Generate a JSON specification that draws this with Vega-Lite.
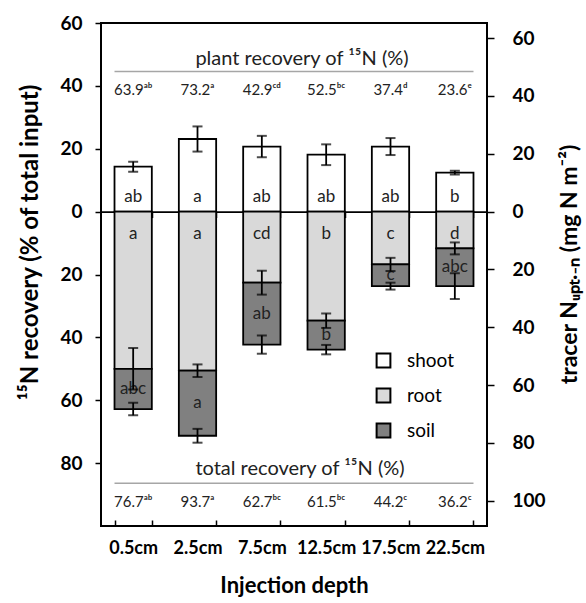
{
  "$schema": "https://vega.github.io/schema/vega-lite/v6.json",
  "width": 386,
  "height": 503,
  "autosize": "none",
  "padding": {"left": 101, "top": 23, "right": 99, "bottom": 77},
  "background": "white",
  "config": {
    "font": "Lato",
    "view": {"stroke": "black", "strokeWidth": 2},
    "axis": {"labelFont": "Lato", "titleFont": "Lato", "labelColor": "black", "titleColor": "black", "tickColor": "black", "domainColor": "black", "grid": false, "tickWidth": 1.5}
  },
  "datasets": {
    "parts": [
      {"depth": "0.5cm", "part": "shoot", "ord": 0, "value": 14.3, "err": 1.6, "letter": "ab"},
      {"depth": "0.5cm", "part": "root", "ord": 1, "value": -50.0, "err": 6.6, "letter": "a"},
      {"depth": "0.5cm", "part": "soil", "ord": 2, "value": -12.8, "err": 2.0, "letter": "abc"},
      {"depth": "2.5cm", "part": "shoot", "ord": 0, "value": 23.1, "err": 4.0, "letter": "a"},
      {"depth": "2.5cm", "part": "root", "ord": 1, "value": -50.6, "err": 2.0, "letter": "a"},
      {"depth": "2.5cm", "part": "soil", "ord": 2, "value": -20.7, "err": 2.2, "letter": "a"},
      {"depth": "7.5cm", "part": "shoot", "ord": 0, "value": 20.7, "err": 3.4, "letter": "ab"},
      {"depth": "7.5cm", "part": "root", "ord": 1, "value": -22.6, "err": 3.8, "letter": "cd"},
      {"depth": "7.5cm", "part": "soil", "ord": 2, "value": -19.7, "err": 2.9, "letter": "ab"},
      {"depth": "12.5cm", "part": "shoot", "ord": 0, "value": 18.1, "err": 3.3, "letter": "ab"},
      {"depth": "12.5cm", "part": "root", "ord": 1, "value": -34.7, "err": 2.3, "letter": "b"},
      {"depth": "12.5cm", "part": "soil", "ord": 2, "value": -9.2, "err": 1.5, "letter": "b"},
      {"depth": "17.5cm", "part": "shoot", "ord": 0, "value": 20.7, "err": 2.7, "letter": "ab"},
      {"depth": "17.5cm", "part": "root", "ord": 1, "value": -16.8, "err": 2.1, "letter": "c"},
      {"depth": "17.5cm", "part": "soil", "ord": 2, "value": -6.9, "err": 1.1, "letter": "c"},
      {"depth": "22.5cm", "part": "shoot", "ord": 0, "value": 12.4, "err": 0.6, "letter": "b"},
      {"depth": "22.5cm", "part": "root", "ord": 1, "value": -11.7, "err": 1.9, "letter": "d"},
      {"depth": "22.5cm", "part": "soil", "ord": 2, "value": -12.0, "err": 4.1, "letter": "abc"}
    ],
    "recov": [
      {"depth": "0.5cm", "plant": "63.9ᵃᵇ", "total": "76.7ᵃᵇ"},
      {"depth": "2.5cm", "plant": "73.2ᵃ", "total": "93.7ᵃ"},
      {"depth": "7.5cm", "plant": "42.9ᶜᵈ", "total": "62.7ᵇᶜ"},
      {"depth": "12.5cm", "plant": "52.5ᵇᶜ", "total": "61.5ᵇᶜ"},
      {"depth": "17.5cm", "plant": "37.4ᵈ", "total": "44.2ᶜ"},
      {"depth": "22.5cm", "plant": "23.6ᵉ", "total": "36.2ᶜ"}
    ]
  },
  "layer": [
    {
      "layer": [
        {
          "data": {"name": "parts"},
          "transform": [
            {"stack": "value", "groupby": ["depth"], "sort": [{"field": "ord", "order": "ascending"}], "as": ["y0", "y1"], "offset": "zero"},
            {"calculate": "datum.y1 - datum.err", "as": "lo"},
            {"calculate": "datum.y1 + datum.err", "as": "hi"},
            {"calculate": "(datum.y0 + datum.y1) / 2", "as": "mid"}
          ],
          "encoding": {
            "x": {
              "field": "depth", "type": "nominal",
              "scale": {"domain": ["0.5cm", "2.5cm", "7.5cm", "12.5cm", "17.5cm", "22.5cm"], "paddingInner": 0.42, "paddingOuter": 0.21},
              "axis": {"orient": "bottom", "title": "Injection depth", "labelAngle": 0, "labelFontSize": 18, "labelFontWeight": "bold", "labelPadding": 19, "titleFontSize": 22, "titleFontWeight": "bold", "titlePadding": 18, "tickBand": "extent", "tickSize": -6, "domain": false}
            }
          },
          "layer": [
            {
              "mark": {"type": "bar", "stroke": "black", "strokeWidth": 1.8},
              "encoding": {
                "y": {
                  "field": "y1", "type": "quantitative",
                  "scale": {"domain": [-100, 60], "nice": false, "zero": false},
                  "axis": {"values": [-80, -60, -40, -20, 0, 20, 40, 60], "labelExpr": "abs(datum.value)", "tickSize": 6, "labelPadding": 13, "labelFontSize": 19, "labelFontWeight": "bold", "title": "¹⁵N recovery (% of total input)", "titleFontSize": 24, "titleFontWeight": "bold", "titlePadding": 17, "titleY": 219, "domain": false}
                },
                "y2": {"field": "y0"},
                "color": {
                  "field": "part", "type": "nominal",
                  "scale": {"domain": ["shoot", "root", "soil"], "range": ["#ffffff", "#d9d9d9", "#808080"]},
                  "legend": {"title": null, "orient": "none", "legendX": 273, "legendY": 328, "symbolType": "square", "symbolSize": 190, "symbolStrokeColor": "black", "symbolStrokeWidth": 2, "symbolOpacity": 1, "labelFontSize": 19, "labelFont": "Lato", "labelColor": "black", "labelOffset": 14, "rowPadding": 12}
                }
              }
            },
            {
              "transform": [{"filter": "datum.part == 'shoot'"}],
              "mark": {"type": "text", "fontSize": 17, "baseline": "middle", "dy": -15, "color": "#222"},
              "encoding": {"y": {"field": "y0", "type": "quantitative"}, "text": {"field": "letter"}}
            },
            {
              "transform": [{"filter": "datum.part == 'root'"}],
              "mark": {"type": "text", "fontSize": 17, "baseline": "middle", "dy": 22, "color": "#222"},
              "encoding": {"y": {"field": "y0", "type": "quantitative"}, "text": {"field": "letter"}}
            },
            {
              "transform": [{"filter": "datum.part == 'soil'"}],
              "mark": {"type": "text", "fontSize": 17, "baseline": "middle", "color": "#222"},
              "encoding": {"y": {"field": "mid", "type": "quantitative"}, "text": {"field": "letter"}}
            },
            {
              "mark": {"type": "rule", "color": "black", "strokeWidth": 1.8},
              "encoding": {"y": {"field": "lo", "type": "quantitative"}, "y2": {"field": "hi"}}
            },
            {
              "mark": {"type": "tick", "color": "black", "size": 10, "thickness": 2},
              "encoding": {"y": {"field": "lo", "type": "quantitative"}}
            },
            {
              "mark": {"type": "tick", "color": "black", "size": 10, "thickness": 2},
              "encoding": {"y": {"field": "hi", "type": "quantitative"}}
            }
          ]
        },
        {
          "data": {"name": "recov"},
          "encoding": {
            "x": {"field": "depth", "type": "nominal", "scale": {"domain": ["0.5cm", "2.5cm", "7.5cm", "12.5cm", "17.5cm", "22.5cm"]}}
          },
          "layer": [
            {
              "mark": {"type": "text", "fontSize": 15, "baseline": "middle", "color": "#222"},
              "encoding": {"y": {"datum": 38.7, "type": "quantitative"}, "text": {"field": "plant"}}
            },
            {
              "mark": {"type": "text", "fontSize": 15, "baseline": "middle", "color": "#222"},
              "encoding": {"y": {"datum": -92.3, "type": "quantitative"}, "text": {"field": "total"}}
            }
          ]
        },
        {
          "data": {"values": [{}]},
          "mark": {"type": "text", "fontSize": 20, "baseline": "middle", "align": "center", "x": {"expr": "width/2 + 8"}, "color": "#222"},
          "encoding": {"y": {"datum": 48.6, "type": "quantitative"}, "text": {"value": "plant recovery of ¹⁵N (%)"}}
        },
        {
          "data": {"values": [{}]},
          "mark": {"type": "text", "fontSize": 20, "baseline": "middle", "align": "center", "x": {"expr": "width/2 + 6"}, "color": "#222"},
          "encoding": {"y": {"datum": -81.8, "type": "quantitative"}, "text": {"value": "total recovery of ¹⁵N (%)"}}
        },
        {
          "data": {"values": [{}]},
          "mark": {"type": "rule", "color": "#a6a6a6", "strokeWidth": 1.5},
          "encoding": {
            "x": {"datum": "0.5cm", "type": "nominal", "bandPosition": 0},
            "x2": {"datum": "22.5cm", "bandPosition": 1},
            "y": {"datum": 44.6, "type": "quantitative"}
          }
        },
        {
          "data": {"values": [{}]},
          "mark": {"type": "rule", "color": "#a6a6a6", "strokeWidth": 1.5},
          "encoding": {
            "x": {"datum": "0.5cm", "type": "nominal", "bandPosition": 0},
            "x2": {"datum": "22.5cm", "bandPosition": 1},
            "y": {"datum": -86.4, "type": "quantitative"}
          }
        }
      ]
    },
    {
      "data": {"name": "parts"},
      "mark": {"type": "tick", "opacity": 0},
      "encoding": {
        "x": {
          "field": "depth", "type": "nominal",
          "scale": {"domain": ["0.5cm", "2.5cm", "7.5cm", "12.5cm", "17.5cm", "22.5cm"]},
          "axis": {"orient": "bottom", "offset": -314.4, "labels": false, "title": null, "tickBand": "extent", "tickSize": 6, "domain": true, "domainWidth": 1.8, "domainColor": "black"}
        },
        "y": {
          "datum": 0, "type": "quantitative",
          "scale": {"domain": [-108.75, 65.25], "nice": false, "zero": false},
          "axis": {"orient": "right", "values": [-100, -80, -60, -40, -20, 0, 20, 40, 60], "labelExpr": "abs(datum.value)", "tickSize": 7, "labelPadding": 18, "labelFontSize": 19, "labelFontWeight": "bold", "title": "tracer Nᵤₚₜ.₋ₙ (mg N m⁻²)", "titleFontSize": 23, "titleFontWeight": "bold", "titlePadding": 36, "titleAngle": 270, "titleY": 241, "domain": false}
        }
      }
    }
  ],
  "resolve": {"scale": {"y": "independent"}, "axis": {"x": "independent", "y": "independent"}}
}
